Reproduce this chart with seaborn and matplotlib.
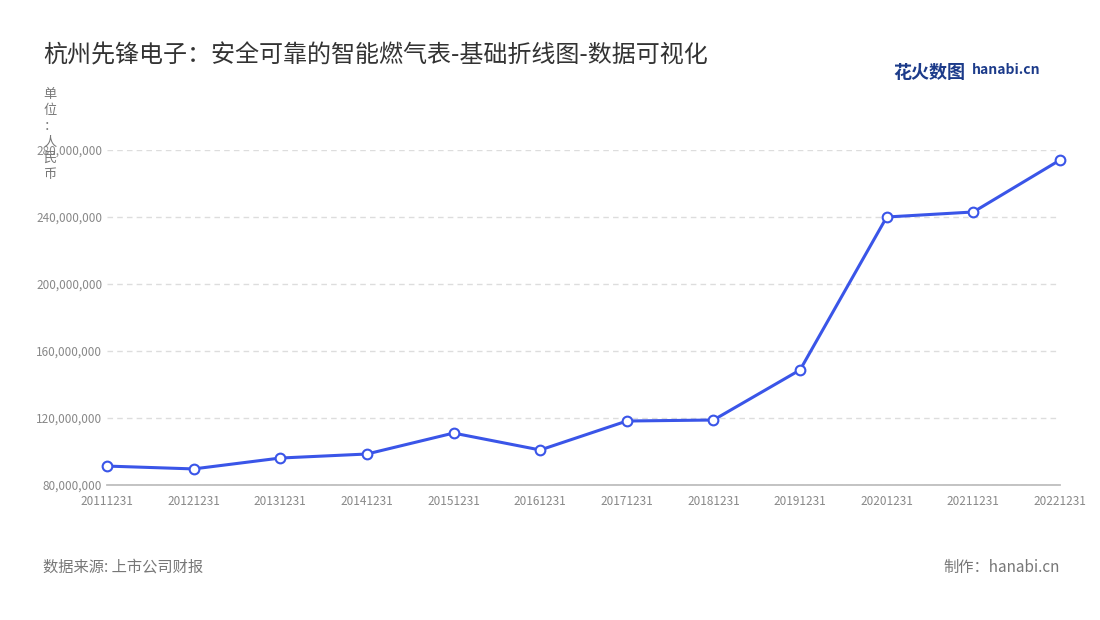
import matplotlib
matplotlib.use("Agg")
import matplotlib.pyplot as plt
import seaborn as sns
import pandas as pd
from matplotlib.ticker import FuncFormatter

years = ["20111231","20121231","20131231","20141231","20151231","20161231",
         "20171231","20181231","20191231","20201231","20211231","20221231"]
revenue = [91.3e6, 89.6e6, 96.1e6, 98.5e6, 111e6, 100.9e6,
           118.2e6, 118.8e6, 148.7e6, 240e6, 243e6, 274e6]
yticks = [80e6, 120e6, 160e6, 200e6, 240e6, 280e6]

sns.set_theme(style="white")
plt.rcParams['font.family'] = ['Noto Sans CJK SC', 'DejaVu Sans']

df = pd.DataFrame({"date": years, "value": revenue})
fig = plt.figure(figsize=(11, 6.2), dpi=100)
ax = fig.add_axes([107/1100, 1-485/620, (1060-107)/1100, (485-150)/620])
x = list(range(len(years)))
sns.lineplot(x=x, y=df["value"], ax=ax, color="#3a55e8", linewidth=2.2,
             marker="o", markersize=7, markerfacecolor="white",
             markeredgecolor="#3a55e8", markeredgewidth=1.5, zorder=3, clip_on=False)
ax.set_xlim(0, len(years)-1)
ax.set_ylim(80e6, 280e6)
ax.set_yticks(yticks)
ax.yaxis.set_major_formatter(FuncFormatter(lambda v, p: f"{int(v):,}"))
ax.set_xticks(x)
ax.set_xticklabels(years)
ax.tick_params(axis='both', labelsize=8.5, colors="#888888", length=0)
ax.tick_params(axis='x', length=4, color="#cccccc")
ax.grid(axis='y', color="#dddddd", linestyle=(0, (4, 3)), linewidth=1)
for s in ["top", "right", "left"]:
    ax.spines[s].set_visible(False)
ax.spines["bottom"].set_color("#bbbbbb")
ax.set_xlabel(""); ax.set_ylabel("")

fig.text(43/1100, 1-55/620, "杭州先锋电子：安全可靠的智能燃气表-基础折线图-数据可视化",
         fontsize=17.3, color="#333333", va="center")
fig.text(50/1100, 1-88/620, "单\n位\n：\n人\n民\n币", fontsize=9.5, color="#777777",
         va="top", ha="center", linespacing=1.3, zorder=5)
fig.text(43/1100, 1-567/620, "数据来源: 上市公司财报", fontsize=11, color="#777777", va="center")
fig.text(1060/1100, 1-567/620, "制作：hanabi.cn", fontsize=11, color="#777777", va="center", ha="right")
fig.text(893/1100, 1-72/620, "花火数图", fontsize=13, color="#1c3b8a", va="center", weight="bold")
fig.text(972/1100, 1-70/620, "hanabi.cn", fontsize=10, color="#1c3b8a", va="center", weight="bold")
fig.savefig("out.png", dpi=100)
